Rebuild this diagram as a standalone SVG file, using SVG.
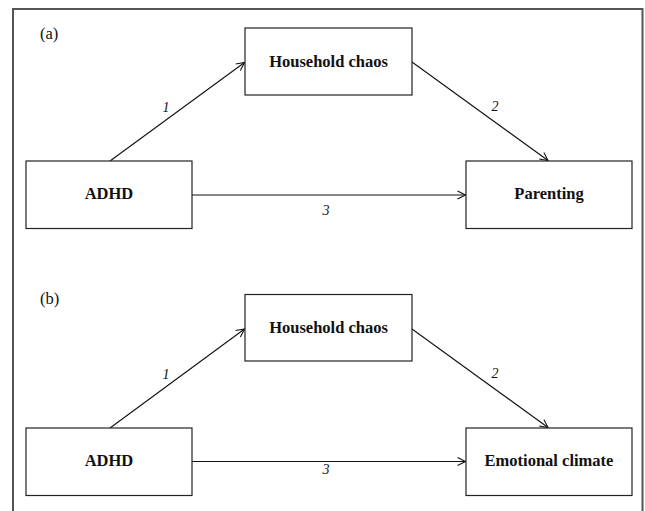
<svg xmlns="http://www.w3.org/2000/svg" width="645" height="511" viewBox="0 0 645 511">
<defs>
<style>
.box{fill:#fff;stroke:#222;stroke-width:1.2}
.lbl{font-family:"Liberation Serif","Times New Roman",serif;font-weight:bold;font-size:16.5px;fill:#111;text-anchor:middle}
.num{font-family:"Liberation Serif","Times New Roman",serif;font-style:italic;font-size:14px;fill:#111;text-anchor:middle}
.pan{font-family:"Liberation Serif","Times New Roman",serif;font-size:16.5px;fill:#111}
.edge{stroke:#111;stroke-width:1.1;fill:none;marker-end:url(#arr)}
</style>
<marker id="arr" markerUnits="userSpaceOnUse" markerWidth="12" markerHeight="12" refX="9" refY="5" orient="auto">
<path d="M1,1 L9,5 L1,9" fill="none" stroke="#111" stroke-width="1.1"/>
</marker>
</defs>
<rect width="645" height="511" fill="#fff"/>
<path d="M13,520 V9 H642.5 V520" fill="none" stroke="#555" stroke-width="2"/>
<text class="pan" x="40" y="39">(a)</text>
<text class="pan" x="40" y="303.5">(b)</text>
<g id="connectors">
<line class="edge" x1="110" y1="161" x2="244.5" y2="62.5"/>
<line class="edge" x1="412" y1="62" x2="548" y2="160.5"/>
<line class="edge" x1="192" y1="195" x2="465.5" y2="195"/>
<text class="num" x="166" y="112">1</text>
<text class="num" x="495" y="111">2</text>
<text class="num" x="326" y="215">3</text>
<line class="edge" x1="110" y1="428" x2="244.5" y2="329"/>
<line class="edge" x1="412" y1="329" x2="548" y2="427.5"/>
<line class="edge" x1="192" y1="461.5" x2="465.5" y2="461.5"/>
<text class="num" x="166" y="378.5">1</text>
<text class="num" x="495" y="378">2</text>
<text class="num" x="326" y="474">3</text>
</g>
<g id="a-chaos"><rect class="box" x="245" y="28" width="167" height="67"/><text class="lbl" x="328.5" y="66.5">Household chaos</text></g>
<g id="a-adhd"><rect class="box" x="26" y="161" width="166" height="67.5"/><text class="lbl" x="109" y="199">ADHD</text></g>
<g id="a-parenting"><rect class="box" x="466" y="161" width="166" height="67.5"/><text class="lbl" x="549" y="199">Parenting</text></g>
<g id="b-chaos"><rect class="box" x="245" y="294.5" width="167" height="66.5"/><text class="lbl" x="328.5" y="332.5">Household chaos</text></g>
<g id="b-adhd"><rect class="box" x="26" y="428" width="166" height="67.5"/><text class="lbl" x="109" y="466">ADHD</text></g>
<g id="b-emotional"><rect class="box" x="466" y="428" width="166" height="67.5"/><text class="lbl" x="549" y="466">Emotional climate</text></g>
</svg>
